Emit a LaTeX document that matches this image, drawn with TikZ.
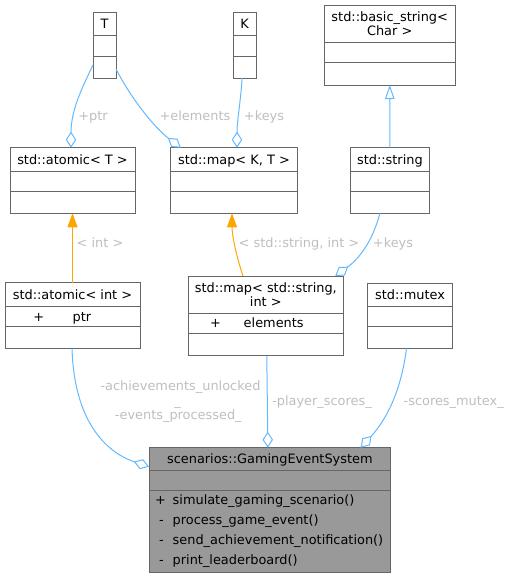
\documentclass[tikz,border=0pt]{standalone}
\usepackage{fontspec}
\setmainfont{DejaVu Sans}
\usetikzlibrary{arrows.meta,calc}
\definecolor{edgeblue}{HTML}{63B8FF}
\definecolor{edgeorange}{HTML}{FFA500}
\definecolor{boxgray}{HTML}{666666}
\definecolor{labelgray}{HTML}{BEBEBE}
\definecolor{focusfill}{HTML}{999999}
\newcommand\umlnode[6]{%
  \node[umlbox, minimum width=#4pt-#2pt, minimum height=#5pt-#3pt, #6] (#1) at (#2,#3) {};}
\newcommand\umldiv[2]{\draw[divider] (#1.west |- 0,#2) -- (#1.east |- 0,#2);}
\begin{document}
\begin{tikzpicture}[x=1pt,y=-1pt,
  umlbox/.style={draw=boxgray, line width=1pt, inner sep=0pt, outer sep=0pt, anchor=north west},
  divider/.style={draw=boxgray, line width=1pt},
  txt/.style={inner sep=0pt, outer sep=0pt, text height=12pt, text depth=2.8pt, font=\fontsize{12.9}{15}\selectfont},
  lbl/.style={txt, text=labelgray},
  usage/.style={draw=edgeblue, line width=1pt, -{Diamond[open,length=16pt,width=10.5pt]}},
  inherit/.style={draw=edgeblue, line width=1pt, -{Triangle[open,length=14pt,width=9.5pt]}},
  templ/.style={draw=edgeorange, line width=1pt, -{Triangle[length=14pt,width=10pt,fill=edgeorange]}},
]
\useasboundingbox (0,0) rectangle (511,579);

% boxes
\umlnode{T}{93}{12}{116}{78}{}
\umldiv{T}{35}\umldiv{T}{56.5}
\node[txt] (Tt) at (104.5,23.5) {T};

\umlnode{K}{233}{12}{256}{78}{}
\umldiv{K}{35}\umldiv{K}{56.5}
\node[txt] (Kt) at (244.5,23.5) {K};

\umlnode{basic}{324.5}{5}{455}{85}{}
\umldiv{basic}{42.5}\umldiv{basic}{62.5}
\node[txt] (basict1) at (389.7,16.9) {std::basic\_string<};
\node[txt] (basict2) at (389.7,30.9) {Char >};

\umlnode{atomT}{10}{147.7}{135}{213.3}{}
\umldiv{atomT}{171.7}\umldiv{atomT}{191.7}
\node[txt] (atomTt) at (72.5,159.7) {std::atomic< T >};

\umlnode{mapKT}{170.7}{147.7}{297.3}{213.3}{}
\umldiv{mapKT}{171.7}\umldiv{mapKT}{191.7}
\node[txt] (mapKTt) at (234,159.7) {std::map< K, T >};

\umlnode{string}{350.7}{147.7}{429}{213.3}{}
\umldiv{string}{171.7}\umldiv{string}{191.7}
\node[txt] (stringt) at (389.9,159.7) {std::string};

\umlnode{atomI}{5}{282.7}{140}{348.3}{}
\umldiv{atomI}{306.7}\umldiv{atomI}{326.7}
\node[txt] (atomIt) at (72.5,294.7) {std::atomic< int >};
\node[txt] (atomIv) at (38.8,316.7) {+};
\node[txt] (atomIm) at (82,316.7) {ptr};

\umlnode{mapSI}{188.3}{276}{343.3}{355.7}{}
\umldiv{mapSI}{313.3}\umldiv{mapSI}{333.3}
\node[txt] (mapSIt1) at (265.8,287.7) {std::map< std::string,};
\node[txt] (mapSIt2) at (265.8,301.7) {int >};
\node[txt] (mapSIv) at (215.5,323.3) {+};
\node[txt] (mapSIm) at (273.7,323.3) {elements};

\umlnode{mutex}{367.7}{283.3}{452.3}{348.3}{}
\umldiv{mutex}{306.7}\umldiv{mutex}{326.7}
\node[txt] (mutext) at (410,295) {std::mutex};

\umlnode{gaming}{149}{447.7}{390.7}{572.7}{fill=focusfill}
\umldiv{gaming}{470}\umldiv{gaming}{490}
\node[txt] (gamingt) at (269.85,458.9) {scenarios::GamingEventSystem};
\node[txt] (gv1) at (160.5,499.5) {+};
\node[txt, anchor=west] (gm1) at (172.7,499.5) {simulate\_gaming\_scenario()};
\node[txt] (gv2) at (161.5,519.5) {-};
\node[txt, anchor=west] (gm2) at (172.7,519.5) {process\_game\_event()};
\node[txt] (gv3) at (161.5,539.5) {-};
\node[txt, anchor=west] (gm3) at (172.7,539.5) {send\_achievement\_notification()};
\node[txt] (gv4) at (161.5,559.5) {-};
\node[txt, anchor=west] (gm4) at (172.7,559.5) {print\_leaderboard()};

% connectors
\draw[usage] ([yshift=13pt]T.south west) .. controls (82,88) and (71,110) .. ([xshift=-1.5pt]atomT.north);
\node[lbl] (l1) at (93,116) {+ptr};

\draw[usage] ([yshift=9pt]T.south east) .. controls (132,100) and (155,128) .. ([xshift=10pt]mapKT.north west);
\node[lbl] (l2) at (195,116) {+elements};

\draw[usage] ([xshift=-2.5pt]K.south) .. controls (241,100) and (237,120) .. ([xshift=3pt]mapKT.north);
\node[lbl] (l3) at (264,116) {+keys};

\draw[inherit] (string.north) -- (basic.south);

\draw[templ] (atomI.north) -- (atomT.south);
\node[lbl] (l5) at (100,243) {< int >};

\draw[templ] ([xshift=-22.8pt]mapSI.north) .. controls (236,255) and (232,235) .. ([xshift=-2pt]mapKT.south);
\node[lbl] (l6) at (299,243) {< std::string, int >};

\draw[usage] ([xshift=-10pt]string.south) .. controls (373,240) and (360,258) .. ([xshift=-8pt]mapSI.north east);
\node[lbl] (l7) at (393,243) {+keys};

\draw[usage] ([xshift=-0.5pt]atomI.south) .. controls (74,420) and (105,452) .. ([yshift=-19pt]gaming.north west);
\node[lbl] (l8a) at (180.5,386) {-achievements\_unlocked};
\node[lbl] (l8b) at (177.5,400.6) {\_};
\node[lbl] (l8c) at (178.3,415.3) {-events\_processed\_};

\draw[usage] ([xshift=1pt]mapSI.south) -- ([xshift=-2pt]gaming.north);
\node[lbl] (l9) at (322,400.7) {-player\_scores\_};

\draw[usage] ([xshift=-3.5pt]mutex.south) .. controls (401,392) and (386,420) .. ([xshift=-30pt]gaming.north east);
\node[lbl] (l10) at (453.7,400.7) {-scores\_mutex\_};
\end{tikzpicture}
\end{document}
